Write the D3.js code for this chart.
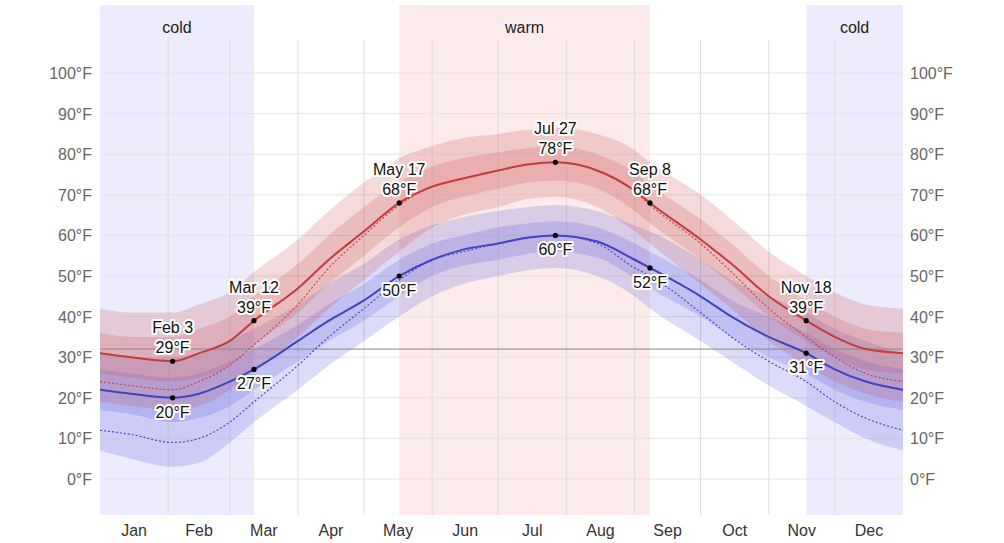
<!DOCTYPE html>
<html><head><meta charset="utf-8">
<script src="https://cdn.jsdelivr.net/npm/d3@7"></script>
<style>
body{margin:0;background:#fff;font-family:"Liberation Sans",Arial,sans-serif;}
.halo{paint-order:stroke;stroke:#fff;stroke-width:4px;stroke-linejoin:round;}
</style></head>
<body><svg id="chart" width="1004" height="543"></svg>
<script>
// day of year for each sample
const days = [0,14,33,45,59,70,90,104,120,136,151,165,181,195,207,226,243,250,273,287,304,321,334,348,365];
const hiAvg = [31,30,29,31,34,39,47,54,61,68,72,74,76,77.5,78,76,71,68,59,53,45,39,35,32,31];
const hiP75 = [36,35,35,37,40,45,53,60,67,73,77,79,80.5,81.5,82,80,75.5,72.5,64,58,50,44,40,37,36];
const hiP90 = [42,41,41,43,46,51,59,66,73,79,82,84,85,86,86.5,85,81,78,70,64,56,50,46,43,42];
const hiP25 = [26,25,24,25,28,33,41,48,55,62,67,69.5,71.5,73,73.5,71.5,66,63,54,48,40,34,30,27,26];
const hiP10 = [19,18,17,18,22,27,35,42,49,56,62,65,67,69,69.5,67,61,58,48,42,34,28,24,21,19];
const loAvg = [22,21,20,21,24,27,34,39,44,50,54,56.5,58,59.5,60,58.5,54,52,45,40,35,31,27,24,22];
const loP75 = [27,26,25,26,29,32,38,43,48,54,58,60,62,63,63.5,62,58,56,49,44,40,36,32,29,27];
const loP90 = [31,30,30,31,34,37,43,48,53,59,62.5,64.5,66,67,67.5,66,62.5,61,54,49,45,41,37,34,31];
const loP25 = [17,16,14,15,18,22,29,34,39,45,50,52.5,54,55.5,56,54.5,49.5,47,40,35,30,26,22,19,17];
const loP10 = [7,5,3,4,9,14,22,28,34,40,45,48,50,51.5,52,50,45,42,34,29,23,18,14,10,7];
const feelHi = [24,23,22,24,28,33,43,52,60,67.5,72,74,76,77.5,78,76,71,67.5,58,51,42,35,30,26,24];
const feelLo = [12,11,9,10,14,19,28,35,42,49,54,56,58,59.5,60,58,52,50,41,35,29,24,19,15,12];

const months = ["Jan","Feb","Mar","Apr","May","Jun","Jul","Aug","Sep","Oct","Nov","Dec"];
const monthStart = [0,31,59,90,120,151,181,212,243,273,304,334,365];
const tempTicks = [0,10,20,30,40,50,60,70,80,90,100];
const seasons = [
  {name:"cold", from:0, to:70, color:"#ececfe"},
  {name:"warm", from:136, to:250, color:"#fdeaea"},
  {name:"cold", from:321, to:365, color:"#ececfe"}
];
const hiMarks = [{d:33,label:"Feb 3",v:29},{d:70,label:"Mar 12",v:39},{d:136,label:"May 17",v:68},
  {d:207,label:"Jul 27",v:78},{d:250,label:"Sep 8",v:68},{d:321,label:"Nov 18",v:39}];
const loMarks = [{d:33,v:20},{d:70,v:27},{d:136,v:50},{d:207,v:60},{d:250,v:52},{d:321,v:31}];

const svg = d3.select("#chart");
const x = d3.scaleLinear().domain([0,365]).range([100,903]);
const y = d3.scaleLinear().domain([0,100]).range([479,73]);
const plotTop = 5, plotBottom = 515;

// season backgrounds
svg.selectAll("rect.season").data(seasons).join("rect")
  .attr("x", d => x(d.from)).attr("width", d => x(d.to) - x(d.from))
  .attr("y", plotTop).attr("height", plotBottom - plotTop).attr("fill", d => d.color);
svg.selectAll("text.season").data(seasons).join("text")
  .attr("x", d => (x(d.from) + x(d.to)) / 2).attr("y", 33)
  .attr("text-anchor", "middle").attr("font-size", 16).attr("fill", "#222")
  .text(d => d.name);

// grid
svg.selectAll("line.hg").data(tempTicks).join("line")
  .attr("x1", 100).attr("x2", 903).attr("y1", d => y(d)).attr("y2", d => y(d))
  .attr("stroke", "#e4e4e4");
svg.selectAll("line.vg").data(monthStart.slice(1, 12)).join("line")
  .attr("x1", d => x(d)).attr("x2", d => x(d)).attr("y1", 40).attr("y2", plotBottom)
  .attr("stroke", "#dcdcdc");

const idx = d3.range(days.length);
const band = (a, b) => d3.area().curve(d3.curveMonotoneX)
  .x(i => x(days[i])).y0(i => y(a[i])).y1(i => y(b[i]));
const line = a => d3.line().curve(d3.curveMonotoneX).x(i => x(days[i])).y(i => y(a[i]));

const red = "rgba(200,70,70,0.2)", blue = "rgba(80,80,220,0.2)";
svg.append("path").attr("d", band(loP10, loP90)(idx)).attr("fill", blue);
svg.append("path").attr("d", band(loP25, loP75)(idx)).attr("fill", blue);
svg.append("path").attr("d", band(hiP10, hiP90)(idx)).attr("fill", red);
svg.append("path").attr("d", band(hiP25, hiP75)(idx)).attr("fill", red);

// freezing line
svg.append("line").attr("x1", 100).attr("x2", 903).attr("y1", y(32)).attr("y2", y(32))
  .attr("stroke", "#888").attr("stroke-width", 1);

svg.append("path").attr("d", line(feelHi)(idx)).attr("fill", "none")
  .attr("stroke", "#c84444").attr("stroke-width", 1.2).attr("stroke-dasharray", "2,2");
svg.append("path").attr("d", line(feelLo)(idx)).attr("fill", "none")
  .attr("stroke", "#4848cc").attr("stroke-width", 1.2).attr("stroke-dasharray", "2,2");
svg.append("path").attr("d", line(hiAvg)(idx)).attr("fill", "none")
  .attr("stroke", "#c43c3c").attr("stroke-width", 2);
svg.append("path").attr("d", line(loAvg)(idx)).attr("fill", "none")
  .attr("stroke", "#4242c4").attr("stroke-width", 2);

// markers
svg.selectAll("circle.m").data(hiMarks.concat(loMarks)).join("circle")
  .attr("cx", d => x(d.d)).attr("cy", d => y(d.v)).attr("r", 2.6).attr("fill", "#000");
const hiG = svg.selectAll("g.hl").data(hiMarks).join("g");
hiG.append("text").attr("class", "halo").attr("x", d => x(d.d)).attr("y", d => y(d.v) - 28)
  .attr("text-anchor", "middle").attr("font-size", 16).attr("fill", "#111").text(d => d.label);
hiG.append("text").attr("class", "halo").attr("x", d => x(d.d)).attr("y", d => y(d.v) - 8)
  .attr("text-anchor", "middle").attr("font-size", 16).attr("fill", "#111").text(d => d.v + "°F");
svg.selectAll("text.ll").data(loMarks).join("text").attr("class", "halo")
  .attr("x", d => x(d.d)).attr("y", d => y(d.v) + 20)
  .attr("text-anchor", "middle").attr("font-size", 16).attr("fill", "#111").text(d => d.v + "°F");

// axes labels
svg.selectAll("text.yl").data(tempTicks).join("text")
  .attr("x", 92).attr("y", d => y(d) + 6).attr("text-anchor", "end")
  .attr("font-size", 16).attr("fill", "#666").text(d => d + "°F");
svg.selectAll("text.yr").data(tempTicks).join("text")
  .attr("x", 910).attr("y", d => y(d) + 6).attr("text-anchor", "start")
  .attr("font-size", 16).attr("fill", "#666").text(d => d + "°F");
svg.selectAll("text.mo").data(months).join("text")
  .attr("x", (d, i) => (x(monthStart[i]) + x(monthStart[i + 1])) / 2).attr("y", 536)
  .attr("text-anchor", "middle").attr("font-size", 16).attr("fill", "#333").text(d => d);
</script></body></html>
